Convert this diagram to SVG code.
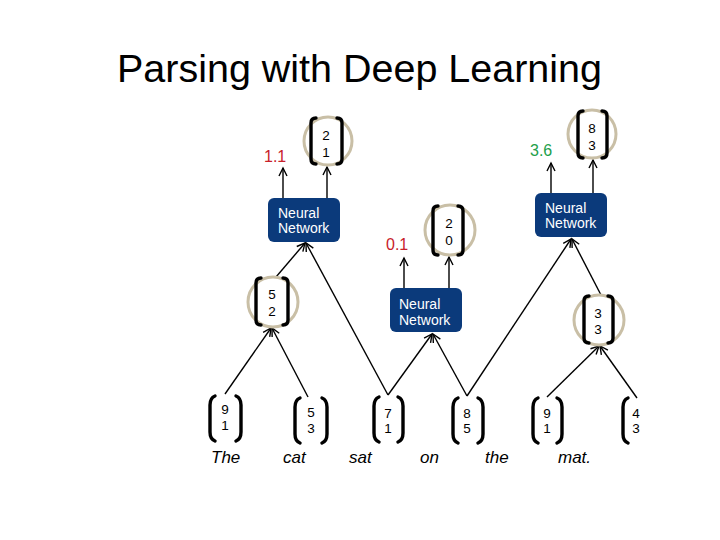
<svg xmlns="http://www.w3.org/2000/svg" width="720" height="540" viewBox="0 0 720 540">
<style>
.title{font-family:"Liberation Sans",Arial,sans-serif;font-size:38px;fill:#000}
.nn rect{fill:#0b3a7b}
.nn text{font-family:"Liberation Sans",Arial,sans-serif;font-size:14px;fill:#fff}
.br{fill:none;stroke:#000;stroke-width:3.4;stroke-linecap:round}
.ring{fill:none;stroke:#c9bfa6;stroke-width:3}
.num{font-family:"Liberation Sans",Arial,sans-serif;font-size:13.5px;fill:#000;text-anchor:middle}
.word{font-family:"Liberation Sans",Arial,sans-serif;font-size:17px;font-style:italic;fill:#000}
.score{font-family:"Liberation Sans",Arial,sans-serif;font-size:16px}
.edge{stroke:#000;stroke-width:1.4;fill:none;marker-end:url(#ah)}
</style>
<defs>
<marker id="ah" markerUnits="userSpaceOnUse" markerWidth="12" markerHeight="12" refX="9" refY="5" orient="auto">
<path d="M1,1 L9,5 L1,9" fill="none" stroke="#000" stroke-width="1.4"/>
</marker>
</defs>
<rect width="720" height="540" fill="#fff"/>
<text class="title" x="117" y="82" textLength="485" lengthAdjust="spacingAndGlyphs">Parsing with Deep Learning</text>

<g id="connectors">
<line class="edge" x1="225" y1="394" x2="271" y2="328"/>
<line class="edge" x1="308" y1="397" x2="272" y2="328"/>
<line class="edge" x1="276" y1="277" x2="305" y2="243"/>
<line class="edge" x1="388" y1="395" x2="306" y2="243"/>
<line class="edge" x1="388" y1="395" x2="432" y2="334"/>
<line class="edge" x1="467" y1="396" x2="433" y2="334"/>
<line class="edge" x1="467" y1="396" x2="571" y2="239"/>
<line class="edge" x1="601" y1="295" x2="572" y2="239"/>
<line class="edge" x1="547" y1="397" x2="599" y2="346"/>
<line class="edge" x1="637" y1="398" x2="600" y2="346"/>
<line class="edge" x1="283" y1="198" x2="283" y2="168"/>
<line class="edge" x1="327" y1="198" x2="327" y2="167"/>
<line class="edge" x1="404" y1="288" x2="404" y2="258"/>
<line class="edge" x1="449" y1="288" x2="449" y2="257"/>
<line class="edge" x1="551" y1="193" x2="551" y2="163"/>
<line class="edge" x1="593" y1="193" x2="593" y2="160"/>
</g>

<g id="nn1" class="nn">
<rect x="268" y="198" width="72" height="44" rx="6"/>
<text x="278" y="218">Neural</text>
<text x="278" y="233">Network</text>
</g>
<g id="nn2" class="nn">
<rect x="390" y="288" width="72" height="44" rx="6"/>
<text x="399" y="309">Neural</text>
<text x="399" y="325">Network</text>
</g>
<g id="nn3" class="nn">
<rect x="535" y="193" width="72" height="44" rx="6"/>
<text x="545" y="213">Neural</text>
<text x="545" y="228">Network</text>
</g>

<g id="score1"><text class="score" x="264" y="162" fill="#c8202a">1.1</text></g>
<g id="score2"><text class="score" x="386" y="250" fill="#c8202a">0.1</text></g>
<g id="score3"><text class="score" x="530" y="156" fill="#22a04a">3.6</text></g>

<g id="c21">
<circle class="ring" cx="328" cy="141" r="24"/>
<path class="br" d="M316,118 Q311,118 311,123 L311,159 Q311,164 316,164"/>
<path class="br" d="M337,118 Q342,118 342,123 L342,159 Q342,164 337,164"/>
<text class="num" x="326" y="140">2</text><text class="num" x="326" y="157">1</text>
</g>
<g id="c20">
<circle class="ring" cx="450" cy="230" r="25"/>
<path class="br" d="M438,206 Q433,206 433,211 L433,250 Q433,255 438,255"/>
<path class="br" d="M458,206 Q463,206 463,211 L463,250 Q463,255 458,255"/>
<text class="num" x="449" y="228">2</text><text class="num" x="449" y="245">0</text>
</g>
<g id="c83">
<circle class="ring" cx="592" cy="134" r="24"/>
<path class="br" d="M583,111 Q578,111 578,116 L578,153 Q578,158 583,158"/>
<path class="br" d="M602,111 Q607,111 607,116 L607,153 Q607,158 602,158"/>
<text class="num" x="592" y="133">8</text><text class="num" x="592" y="150">3</text>
</g>
<g id="c52">
<circle class="ring" cx="273" cy="302" r="25"/>
<path class="br" d="M261,278 Q256,278 256,283 L256,320 Q256,325 261,325"/>
<path class="br" d="M283,278 Q288,278 288,283 L288,320 Q288,325 283,325"/>
<text class="num" x="272" y="299">5</text><text class="num" x="272" y="316">2</text>
</g>
<g id="c33">
<circle class="ring" cx="599" cy="320" r="25"/>
<path class="br" d="M589,296 Q584,296 584,301 L584,338 Q584,343 589,343"/>
<path class="br" d="M608,296 Q613,296 613,301 L613,338 Q613,343 608,343"/>
<text class="num" x="598" y="318">3</text><text class="num" x="598" y="334">3</text>
</g>

<g id="w1">
<path class="br" d="M215,396 Q210,398 210,405 L210,432 Q210,439 215,441"/>
<path class="br" d="M236,396 Q241,398 241,405 L241,432 Q241,439 236,441"/>
<text class="num" x="225" y="414">9</text><text class="num" x="225" y="430" fill="#6b4a2a">1</text>
<text class="word" x="211" y="463">The</text>
</g>
<g id="w2">
<path class="br" d="M300,398 Q295,400 295,407 L295,434 Q295,441 300,443"/>
<path class="br" d="M322,398 Q327,400 327,407 L327,434 Q327,441 322,443"/>
<text class="num" x="311" y="417">5</text><text class="num" x="311" y="433">3</text>
<text class="word" x="283" y="463">cat</text>
</g>
<g id="w3">
<path class="br" d="M379,397 Q374,399 374,406 L374,433 Q374,440 379,442"/>
<path class="br" d="M398,397 Q403,399 403,406 L403,433 Q403,440 398,442"/>
<text class="num" x="388" y="418">7</text><text class="num" x="388" y="433">1</text>
<text class="word" x="349" y="463">sat</text>
</g>
<g id="w-on"><text class="word" x="420" y="463">on</text></g>
<g id="w4">
<path class="br" d="M458,398 Q453,400 453,407 L453,434 Q453,441 458,443"/>
<path class="br" d="M478,398 Q483,400 483,407 L483,434 Q483,441 478,443"/>
<text class="num" x="467" y="418">8</text><text class="num" x="467" y="433">5</text>
<text class="word" x="485" y="463">the</text>
</g>
<g id="w5">
<path class="br" d="M538,398 Q533,400 533,407 L533,434 Q533,441 538,443"/>
<path class="br" d="M557,398 Q562,400 562,407 L562,434 Q562,441 557,443"/>
<text class="num" x="547" y="418">9</text><text class="num" x="547" y="433">1</text>
<text class="word" x="558" y="463">mat.</text>
</g>
<g id="w6">
<path class="br" d="M628,398 Q623,400 623,407 L623,434 Q623,441 628,443"/>
<text class="num" x="636" y="418">4</text><text class="num" x="636" y="433">3</text>
</g>
</svg>
